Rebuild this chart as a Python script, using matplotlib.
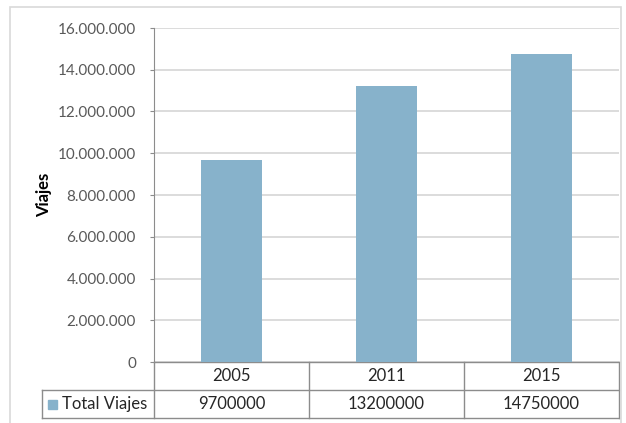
import matplotlib.pyplot as plt
from matplotlib.patches import Rectangle
from matplotlib.lines import Line2D

years = ['2005', '2011', '2015']
total_viajes = [9700000, 13200000, 14750000]
yticks = [0, 2000000, 4000000, 6000000, 8000000, 10000000, 12000000, 14000000, 16000000]
serie = 'Total Viajes'

bar_color = '#87b2cb'
line_color = '#8c8c8c'
text_color = '#262626'

plt.rcParams['font.family'] = ['Lato', 'DejaVu Sans']

fig = plt.figure(figsize=(6.26, 4.23), dpi=100)
ax = fig.add_axes([154 / 626, 1 - 362 / 423, 465 / 626, 334 / 423])

# outer chart frame
fig.patches.append(Rectangle((10 / 626, -0.05), 611 / 626, 1.05 - 7 / 423,
                             transform=fig.transFigure, fill=False,
                             edgecolor='#d9d9d9', lw=1.2))

x = list(range(len(years)))
ax.bar(x, total_viajes, width=0.39, color=bar_color, zorder=3)
ax.set_xlim(-0.5, len(years) - 0.5)
ax.set_ylim(0, 16000000)
ax.set_yticks(yticks)
ax.set_yticklabels(['{:,}'.format(v).replace(',', '.') for v in yticks],
                   fontsize=11, color='#595959')
ax.yaxis.grid(True, color='#d9d9d9', lw=1.3, zorder=0)
ax.tick_params(axis='y', length=3, color=line_color, pad=10)
ax.set_xticks([])
for s in ['top', 'right', 'bottom']:
    ax.spines[s].set_visible(False)
ax.spines['left'].set_color(line_color)

ax.set_ylabel('Viajes', fontsize=12, fontweight='bold', color='black')
ax.yaxis.set_label_coords(-0.219, 0.5)

# data table under the plot
r1 = -28 / 334
r2 = -56 / 334
lx = -112 / 465
n = len(years)
edges = [i / n for i in range(n + 1)]

def seg(x0, y0, x1, y1):
    ax.add_line(Line2D([x0, x1], [y0, y1], transform=ax.transAxes,
                       color=line_color, lw=1, clip_on=False))

seg(0, 0, 1, 0)
seg(lx, r1, 1, r1)
seg(lx, r2, 1, r2)
for e in edges:
    seg(e, 0, e, r2)
seg(lx, r1, lx, r2)

for i, (yr, v) in enumerate(zip(years, total_viajes)):
    cx = (edges[i] + edges[i + 1]) / 2
    ax.text(cx, r1 / 2, yr, transform=ax.transAxes, ha='center', va='center',
            fontsize=12, color=text_color)
    ax.text(cx, (r1 + r2) / 2, str(v), transform=ax.transAxes, ha='center',
            va='center', fontsize=12, color=text_color)

ax.add_patch(Rectangle((lx + 6 / 465, (r1 + r2) / 2 - 4.5 / 334), 9 / 465, 9 / 334,
                       transform=ax.transAxes, color=bar_color, clip_on=False))
ax.text(lx + 20 / 465, (r1 + r2) / 2, serie, transform=ax.transAxes, ha='left',
        va='center', fontsize=12, color=text_color)

fig.savefig('out.png', dpi=100)
